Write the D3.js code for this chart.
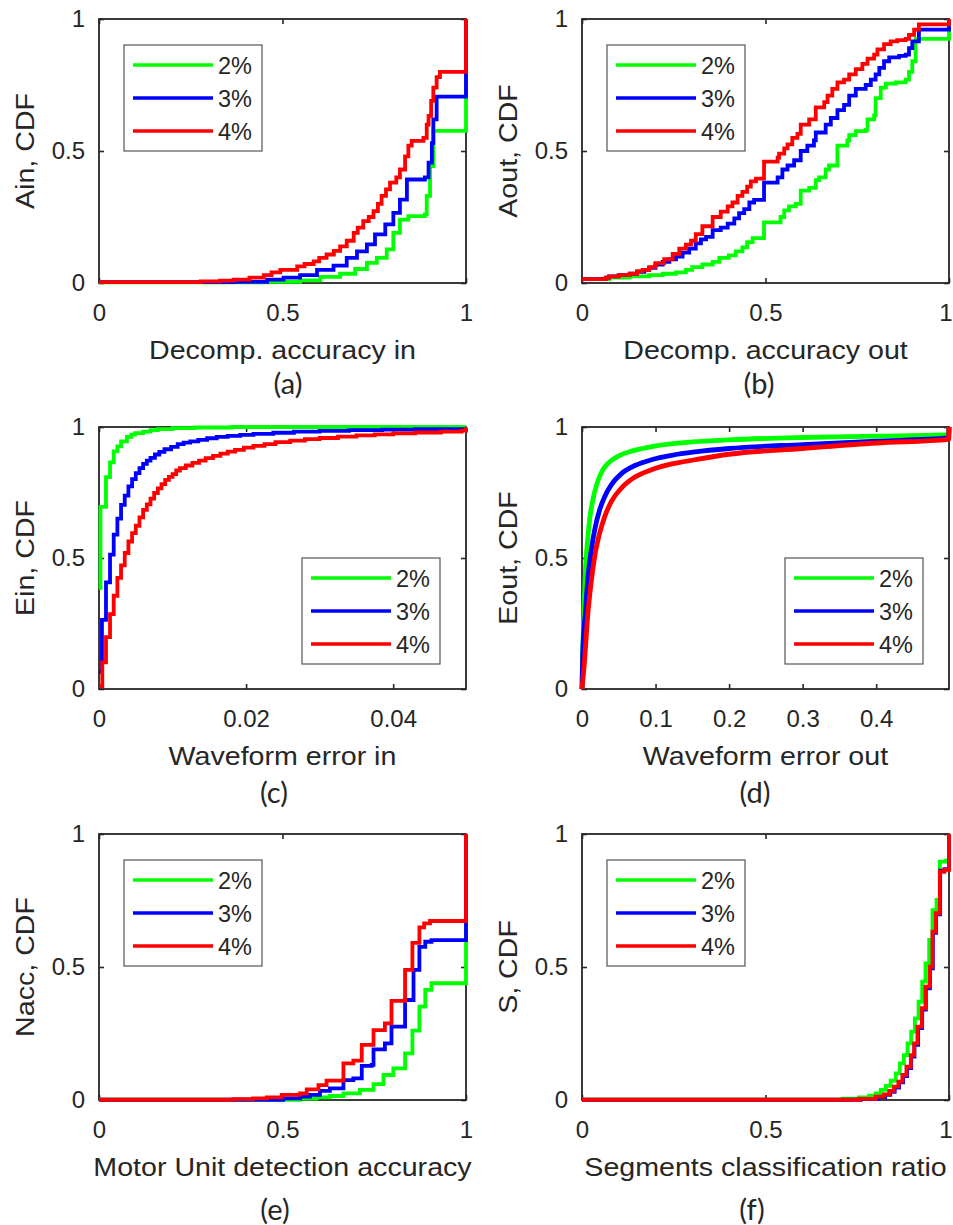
<!DOCTYPE html>
<html>
<head>
<meta charset="utf-8">
<script src="https://cdn.jsdelivr.net/npm/d3@7"></script>
<style>
  body { margin: 0; background: #ffffff; }
  svg text { fill: #262626; }
</style>
</head>
<body>
<svg id="fig" width="953" height="1225"></svg>
<script>
// ---- series ----
const seriesLabels = ["2%", "3%", "4%"];
const seriesColors = ["#00ff00", "#0000ff", "#ff0000"];

// ---- tick values ----
const unitTicks = [0, 0.5, 1];
const einTicks = [0, 0.02, 0.04];
const eoutTicks = [0, 0.1, 0.2, 0.3, 0.4];
const cdfTicks = [0, 0.5, 1];

// ---- (a) decomposition accuracy in: [value, CDF] ----
const ain2 = [[0,0.002],[0.458,0.004],[0.548,0.01],[0.603,0.023],[0.657,0.035],[0.698,0.053],[0.73,0.076],[0.757,0.095],[0.784,0.127],[0.802,0.19],[0.82,0.24],[0.843,0.253],[0.888,0.26],[0.893,0.33],[0.902,0.443],[0.911,0.576],[1,1]];
const ain3 = [[0,0.003],[0.367,0.004],[0.458,0.013],[0.503,0.02],[0.548,0.03],[0.594,0.05],[0.639,0.066],[0.675,0.095],[0.703,0.12],[0.73,0.146],[0.752,0.184],[0.78,0.222],[0.802,0.266],[0.82,0.316],[0.839,0.392],[0.888,0.4],[0.898,0.456],[0.907,0.53],[0.911,0.62],[0.92,0.706],[1,1]];
const ain4 = [[0,0.003],[0.277,0.006],[0.33,0.009],[0.367,0.013],[0.41,0.02],[0.449,0.03],[0.47,0.04],[0.494,0.05],[0.54,0.063],[0.56,0.072],[0.585,0.082],[0.6,0.095],[0.62,0.108],[0.64,0.122],[0.657,0.139],[0.675,0.16],[0.694,0.19],[0.705,0.21],[0.72,0.234],[0.735,0.25],[0.748,0.272],[0.76,0.3],[0.77,0.33],[0.782,0.355],[0.793,0.38],[0.81,0.4],[0.82,0.43],[0.834,0.48],[0.843,0.52],[0.852,0.538],[0.884,0.55],[0.893,0.6],[0.898,0.633],[0.905,0.69],[0.911,0.74],[0.92,0.78],[0.929,0.8],[1,1]];

// ---- (b) decomposition accuracy out ----
const aout2 = [[0,0.015],[0.074,0.02],[0.13,0.025],[0.183,0.03],[0.22,0.035],[0.256,0.04],[0.283,0.05],[0.3,0.06],[0.328,0.07],[0.356,0.08],[0.374,0.095],[0.4,0.105],[0.419,0.12],[0.437,0.135],[0.45,0.155],[0.465,0.17],[0.496,0.23],[0.541,0.25],[0.551,0.275],[0.564,0.29],[0.582,0.3],[0.596,0.35],[0.619,0.36],[0.637,0.39],[0.646,0.4],[0.664,0.43],[0.673,0.445],[0.696,0.52],[0.723,0.54],[0.728,0.56],[0.746,0.575],[0.773,0.58],[0.778,0.62],[0.796,0.635],[0.8,0.7],[0.814,0.74],[0.828,0.755],[0.855,0.76],[0.882,0.77],[0.891,0.8],[0.9,0.84],[0.909,0.925],[1,1]];
const aout3 = [[0,0.015],[0.065,0.02],[0.074,0.025],[0.1,0.03],[0.13,0.035],[0.15,0.042],[0.17,0.05],[0.183,0.057],[0.2,0.07],[0.22,0.08],[0.238,0.09],[0.256,0.1],[0.274,0.115],[0.292,0.13],[0.31,0.15],[0.324,0.165],[0.338,0.175],[0.356,0.2],[0.378,0.21],[0.397,0.225],[0.415,0.245],[0.428,0.265],[0.442,0.28],[0.456,0.305],[0.469,0.315],[0.496,0.38],[0.533,0.4],[0.546,0.43],[0.56,0.445],[0.578,0.465],[0.596,0.5],[0.614,0.52],[0.632,0.54],[0.637,0.57],[0.664,0.6],[0.678,0.625],[0.696,0.655],[0.714,0.675],[0.728,0.71],[0.746,0.735],[0.773,0.75],[0.787,0.77],[0.8,0.79],[0.81,0.815],[0.823,0.84],[0.837,0.855],[0.864,0.86],[0.882,0.865],[0.891,0.89],[0.9,0.915],[0.918,0.96],[1,1]];
const aout4 = [[0,0.015],[0.065,0.02],[0.074,0.025],[0.1,0.03],[0.13,0.035],[0.15,0.045],[0.165,0.05],[0.183,0.06],[0.2,0.075],[0.224,0.09],[0.247,0.11],[0.265,0.13],[0.283,0.145],[0.297,0.16],[0.31,0.185],[0.328,0.215],[0.356,0.25],[0.378,0.27],[0.397,0.29],[0.41,0.305],[0.424,0.33],[0.437,0.345],[0.45,0.365],[0.46,0.385],[0.474,0.395],[0.496,0.46],[0.533,0.475],[0.537,0.49],[0.551,0.51],[0.56,0.525],[0.573,0.55],[0.587,0.565],[0.596,0.6],[0.619,0.62],[0.637,0.665],[0.66,0.685],[0.669,0.71],[0.682,0.735],[0.696,0.76],[0.714,0.77],[0.728,0.79],[0.746,0.81],[0.764,0.83],[0.778,0.85],[0.796,0.865],[0.805,0.885],[0.823,0.905],[0.841,0.915],[0.859,0.92],[0.882,0.925],[0.891,0.94],[0.905,0.96],[0.918,0.98],[1,1]];

// ---- (c) waveform error in ----
const ein2 = [[0,0.385],[0.0002,0.695],[0.00095,0.809],[0.0015,0.865],[0.002,0.907],[0.0025,0.926],[0.003,0.945],[0.0038,0.962],[0.0044,0.971],[0.0049,0.977],[0.006,0.982],[0.007,0.988],[0.008,0.992],[0.01,0.996],[0.013,0.998],[0.018,1],[0.0499,1]];
const ein3 = [[0,0.065],[0.0004,0.264],[0.00095,0.407],[0.0015,0.513],[0.002,0.589],[0.0025,0.65],[0.003,0.703],[0.0035,0.738],[0.004,0.773],[0.0045,0.801],[0.005,0.824],[0.0055,0.843],[0.006,0.859],[0.0065,0.872],[0.007,0.882],[0.0076,0.895],[0.0082,0.905],[0.0089,0.915],[0.0098,0.924],[0.0107,0.935],[0.0115,0.94],[0.0124,0.945],[0.0135,0.951],[0.0147,0.957],[0.016,0.962],[0.0175,0.966],[0.0192,0.97],[0.021,0.974],[0.0237,0.978],[0.0265,0.982],[0.03,0.985],[0.034,0.988],[0.0385,0.99],[0.043,0.992],[0.0499,0.994]];
const ein4 = [[0,0.01],[0.00045,0.102],[0.00095,0.198],[0.0015,0.286],[0.002,0.356],[0.0025,0.424],[0.003,0.472],[0.0035,0.519],[0.004,0.563],[0.0045,0.595],[0.005,0.623],[0.0055,0.655],[0.006,0.684],[0.0065,0.705],[0.007,0.727],[0.0075,0.748],[0.008,0.766],[0.0085,0.782],[0.009,0.798],[0.0095,0.81],[0.01,0.82],[0.0105,0.834],[0.011,0.843],[0.0118,0.853],[0.0127,0.863],[0.0136,0.872],[0.0145,0.881],[0.0155,0.89],[0.0165,0.898],[0.0175,0.906],[0.0185,0.913],[0.0197,0.921],[0.021,0.928],[0.0225,0.935],[0.024,0.942],[0.026,0.948],[0.028,0.954],[0.03,0.958],[0.0325,0.963],[0.035,0.968],[0.0375,0.972],[0.04,0.976],[0.043,0.979],[0.0465,0.982],[0.0493,0.986],[0.0499,0.998]];

// ---- (d) waveform error out ----
const eout2 = [[0,0],[0.001,0.14],[0.003,0.33],[0.005,0.47],[0.0075,0.565],[0.0105,0.65],[0.015,0.725],[0.02,0.78],[0.027,0.83],[0.035,0.86],[0.05,0.89],[0.07,0.91],[0.1,0.928],[0.15,0.943],[0.2,0.951],[0.3,0.96],[0.4,0.965],[0.4985,0.971],[0.499,1]];
const eout3 = [[0,0],[0.001,0.137],[0.0045,0.29],[0.0082,0.43],[0.0127,0.532],[0.0173,0.608],[0.024,0.684],[0.031,0.735],[0.04,0.78],[0.0536,0.822],[0.072,0.853],[0.0945,0.875],[0.122,0.892],[0.1535,0.905],[0.2,0.918],[0.3,0.933],[0.4,0.946],[0.4985,0.958],[0.499,1]];
const eout4 = [[0,0],[0.0036,0.112],[0.0073,0.264],[0.0118,0.392],[0.0173,0.506],[0.024,0.595],[0.031,0.659],[0.04,0.716],[0.0536,0.767],[0.072,0.809],[0.0945,0.837],[0.122,0.859],[0.1535,0.875],[0.2,0.896],[0.3,0.918],[0.4,0.939],[0.4985,0.953],[0.499,1]];

// ---- (e) motor unit detection accuracy ----
const nacc2 = [[0,0.001],[0.548,0.005],[0.593,0.01],[0.629,0.015],[0.666,0.025],[0.711,0.038],[0.748,0.06],[0.775,0.094],[0.802,0.119],[0.834,0.175],[0.854,0.261],[0.873,0.351],[0.889,0.414],[0.906,0.439],[1,1]];
const nacc3 = [[0,0.001],[0.502,0.006],[0.548,0.013],[0.575,0.019],[0.602,0.034],[0.629,0.044],[0.666,0.075],[0.693,0.081],[0.716,0.128],[0.743,0.132],[0.748,0.19],[0.779,0.213],[0.797,0.276],[0.834,0.376],[0.857,0.489],[0.873,0.576],[0.889,0.595],[0.906,0.601],[1,1]];
const nacc4 = [[0,0.001],[0.366,0.003],[0.42,0.006],[0.457,0.01],[0.498,0.019],[0.548,0.025],[0.566,0.04],[0.598,0.056],[0.62,0.073],[0.666,0.138],[0.693,0.148],[0.716,0.207],[0.748,0.263],[0.779,0.288],[0.797,0.373],[0.834,0.489],[0.854,0.591],[0.873,0.649],[0.886,0.664],[0.902,0.673],[1,1]];

// ---- (f) segments classification ratio ----
const seg2 = [[0,0.001],[0.71,0.005],[0.755,0.01],[0.782,0.016],[0.8,0.025],[0.814,0.038],[0.828,0.053],[0.841,0.073],[0.855,0.1],[0.866,0.138],[0.877,0.169],[0.887,0.213],[0.897,0.257],[0.907,0.307],[0.917,0.37],[0.927,0.445],[0.936,0.514],[0.946,0.602],[0.955,0.714],[0.966,0.752],[0.975,0.896],[0.991,0.9],[1,1]];
const seg3 = [[0,0.001],[0.76,0.004],[0.805,0.011],[0.826,0.019],[0.84,0.031],[0.852,0.047],[0.864,0.066],[0.875,0.09],[0.886,0.12],[0.897,0.163],[0.906,0.207],[0.916,0.27],[0.927,0.34],[0.937,0.42],[0.948,0.495],[0.956,0.628],[0.965,0.698],[0.976,0.862],[0.988,0.868],[1,1]];
const seg4 = [[0,0.001],[0.755,0.004],[0.8,0.0125],[0.823,0.021],[0.837,0.034],[0.85,0.05],[0.862,0.069],[0.873,0.094],[0.884,0.125],[0.896,0.169],[0.905,0.213],[0.914,0.276],[0.926,0.345],[0.936,0.426],[0.947,0.501],[0.955,0.633],[0.964,0.702],[0.975,0.858],[0.987,0.865],[1,1]];

// ---- panel layout ----
const panels = [
  { id: "a", left: 99,  top: 19,  right: 466, bottom: 283,  xMax: 1,      xTicks: unitTicks,
    series: [ain2, ain3, ain4], step: true, lw: 3.8, xLabel: "Decomp. accuracy in", yLabel: "Ain, CDF", legend: "tl", capX: 288, capDy: 111 },
  { id: "b", left: 582, top: 19,  right: 949, bottom: 283,  xMax: 1,      xTicks: unitTicks,
    series: [aout2, aout3, aout4], step: true, lw: 3.8, xLabel: "Decomp. accuracy out", yLabel: "Aout, CDF", legend: "tl", capX: 759, capDy: 111 },
  { id: "c", left: 99,  top: 427, right: 466, bottom: 689,  xMax: 0.0499, xTicks: einTicks,
    series: [ein2, ein3, ein4], step: true, lw: 3.8, xLabel: "Waveform error in", yLabel: "Ein, CDF", legend: "br", capX: 274, capDy: 114 },
  { id: "d", left: 582, top: 427, right: 949, bottom: 689,  xMax: 0.499,  xTicks: eoutTicks,
    series: [eout2, eout3, eout4], step: false, lw: 4.8, xLabel: "Waveform error out", yLabel: "Eout, CDF", legend: "br", capX: 755, capDy: 114 },
  { id: "e", left: 99,  top: 834, right: 466, bottom: 1100, xMax: 1,      xTicks: unitTicks,
    series: [nacc2, nacc3, nacc4], step: true, lw: 3.8, xLabel: "Motor Unit detection accuracy", yLabel: "Nacc, CDF", legend: "tl", capX: 275, capDy: 120 },
  { id: "f", left: 582, top: 834, right: 949, bottom: 1100, xMax: 1,      xTicks: unitTicks,
    series: [seg2, seg3, seg4], step: true, lw: 3.8, xLabel: "Segments classification ratio", yLabel: "S, CDF", legend: "tl", capX: 752, capDy: 120 }
];

const svg = d3.select("#fig");
const figWidth = +svg.attr("width");
const ink = "#262626";
const tickFont = "Liberation Sans, Arial, sans-serif";
const fmt = d3.format("~g");

panels.forEach(p => {
  const x = d3.scaleLinear().domain([0, p.xMax]).range([p.left, p.right]);
  const y = d3.scaleLinear().domain([0, 1]).range([p.bottom, p.top]);
  const g = svg.append("g").attr("class", "panel-" + p.id);

  // inward ticks on all four sides
  const axB = g.append("g").attr("transform", `translate(0,${p.bottom})`)
    .call(d3.axisBottom(x).tickValues(p.xTicks).tickFormat(fmt).tickSize(-5).tickPadding(21));
  const axT = g.append("g").attr("transform", `translate(0,${p.top})`)
    .call(d3.axisTop(x).tickValues(p.xTicks).tickFormat("").tickSize(-5));
  const axL = g.append("g").attr("transform", `translate(${p.left},0)`)
    .call(d3.axisLeft(y).tickValues(cdfTicks).tickFormat(fmt).tickSize(-5).tickPadding(14));
  const axR = g.append("g").attr("transform", `translate(${p.right},0)`)
    .call(d3.axisRight(y).tickValues(cdfTicks).tickFormat("").tickSize(-5));
  [axB, axT, axL, axR].forEach(a => {
    a.select(".domain").remove();
    a.selectAll(".tick line").attr("stroke", ink).attr("stroke-width", 1.6);
    a.selectAll(".tick text").attr("font-family", tickFont).attr("font-size", 24).attr("fill", ink);
  });

  // keep x tick labels inside the figure's right edge
  axB.selectAll(".tick text").each(function () {
    const box = this.getBoundingClientRect();
    const over = box.right - (figWidth - 0.5);
    if (over > 0) d3.select(this).attr("dx", -over);
  });

  // axes box
  g.append("rect")
    .attr("x", p.left).attr("y", p.top)
    .attr("width", p.right - p.left).attr("height", p.bottom - p.top)
    .attr("fill", "none").attr("stroke", ink).attr("stroke-width", 1.8);

  // CDF curves
  const line = d3.line()
    .x(d => x(d[0])).y(d => y(d[1]))
    .curve(p.step ? d3.curveStepAfter : d3.curveMonotoneX);
  p.series.forEach((s, i) => {
    g.append("path").datum(s)
      .attr("d", line)
      .attr("fill", "none")
      .attr("stroke", seriesColors[i])
      .attr("stroke-width", p.lw)
      .attr("stroke-linejoin", "miter");
  });

  // axis labels (slightly widened Helvetica-like type)
  const cx = (p.left + p.right) / 2;
  g.append("text")
    .attr("transform", `translate(${cx},${p.bottom + 76}) scale(1.1,1)`)
    .attr("text-anchor", "middle")
    .attr("font-family", tickFont).attr("font-size", 26)
    .text(p.xLabel);
  const cy = (p.top + p.bottom) / 2;
  g.append("text")
    .attr("transform", `translate(${p.left - 65},${cy}) rotate(-90) scale(1.1,1)`)
    .attr("text-anchor", "middle")
    .attr("font-family", tickFont).attr("font-size", 26)
    .text(p.yLabel);

  // sub-figure caption
  g.append("text")
    .attr("x", p.capX).attr("y", p.bottom + p.capDy)
    .attr("text-anchor", "middle")
    .attr("font-family", "Lato, 'Open Sans', sans-serif").attr("font-size", 29)
    .text(`(${p.id})`);

  // legend
  const lw = 138, lh = 106;
  const lx = p.legend === "tl" ? p.left + 25 : p.right - 26 - lw;
  const ly = p.legend === "tl" ? p.top + 26 : p.bottom - 25 - lh;
  const lg = g.append("g").attr("transform", `translate(${lx},${ly})`);
  lg.append("rect").attr("width", lw).attr("height", lh)
    .attr("fill", "#ffffff").attr("stroke", "#555555").attr("stroke-width", 1.2);
  seriesLabels.forEach((lab, i) => {
    const ry = 20 + i * 33;
    lg.append("line").attr("x1", 9).attr("x2", 89).attr("y1", ry).attr("y2", ry)
      .attr("stroke", seriesColors[i]).attr("stroke-width", 3.5);
    lg.append("text").attr("x", 94).attr("y", ry + 9)
      .attr("font-family", tickFont).attr("font-size", 23.5).attr("fill", "#000000")
      .text(lab);
  });
});
</script>
</body>
</html>
